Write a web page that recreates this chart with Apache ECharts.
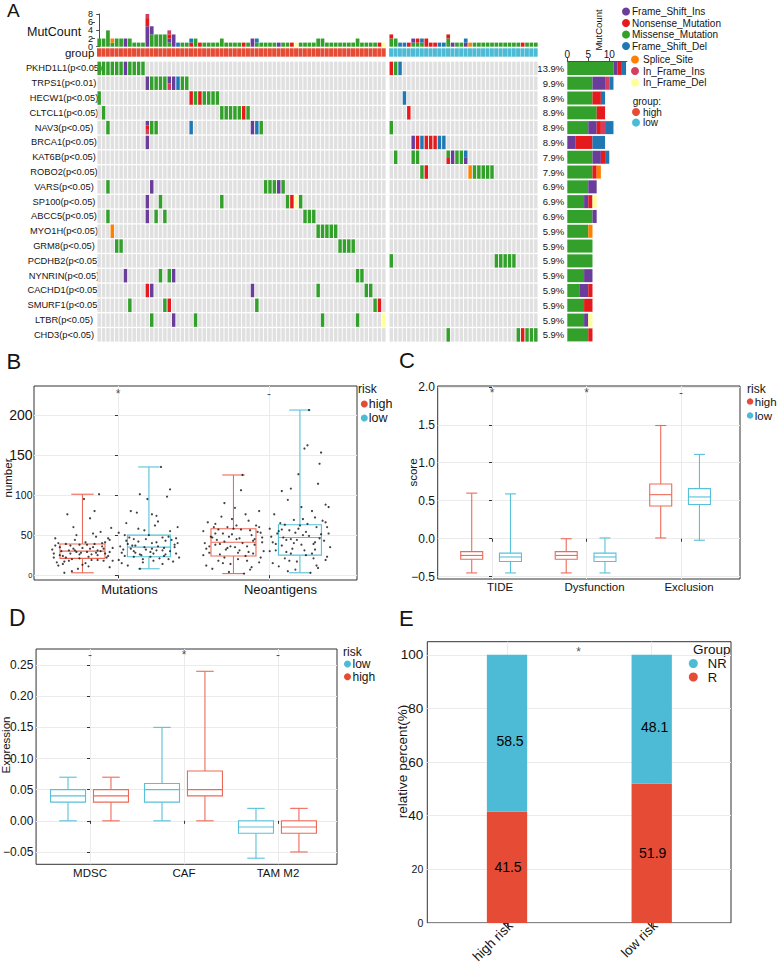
<!DOCTYPE html>
<html lang="en">
<head>
<meta charset="utf-8">
<title>Mutation landscape and immune scores by risk group</title>
<script src="https://cdn.jsdelivr.net/npm/echarts@6.0.0/dist/echarts.min.js"></script>
<style>
  html, body { margin: 0; padding: 0; background: #fff; }
  #chart { width: 777px; height: 966px; }
</style>
</head>
<body>
<div id="chart"></div>
<script>
const FONT = '"Liberation Sans", Arial, Helvetica, sans-serif';
const TXT = '#141414';
const RED = '#E64B35';
const CYAN = '#4DBBD5';
const RED_LINE = '#EE6A58';
const CYAN_LINE = '#58C1D9';

// ---------- A: oncoplot ----------
const mutTypes = ['Frame_Shift_Ins', 'Nonsense_Mutation', 'Missense_Mutation', 'Frame_Shift_Del',
  'Splice_Site', 'In_Frame_Ins', 'In_Frame_Del'];
const mutCodes = ['I', 'N', 'M', 'D', 'S', 'i', 'd'];
const mutColors = ['#6A3D9A', '#E41A1C', '#33A02C', '#1F78B4', '#FF7F00', '#D53E5F', '#FFFF99'];
const stackOrder = [2, 0, 1, 5, 3, 4, 6];

const genes = ['PKHD1L1', 'TRPS1', 'HECW1', 'CLTCL1', 'NAV3', 'BRCA1', 'KAT6B', 'ROBO2', 'VARS',
  'SP100', 'ABCC5', 'MYO1H', 'GRM8', 'PCDHB2', 'NYNRIN', 'CACHD1', 'SMURF1', 'LTBR', 'CHD3'];
const geneP = ['p<0.05', 'p<0.01', 'p<0.05', 'p<0.05', 'p<0.05', 'p<0.05', 'p<0.05', 'p<0.05', 'p<0.05',
  'p<0.05', 'p<0.05', 'p<0.05', 'p<0.05', 'p<0.05', 'p<0.05', 'p<0.05', 'p<0.05', 'p<0.05', 'p<0.05'];
const nHigh = 66;
const nLow = 34;
const totalSamples = 101;
const mutCountTicksA = [0, 4, 8];
const mutCountTicksB = [2, 6];

// mutated columns of each gene, "col:codes" (several codes = several hits in one sample)
const mutHigh = [
  '0-5:M 6:I 7-10:M',
  '11:I 12-15:M 16:Ii 17:I 18:D 19-20:M',
  '0:M 21:N 22:M 23:N 24-27:M',
  '1:M 28-32:M 33:N 34:M',
  '2:M 11:INi 12-13:M 21:D 35:I 36:D 37:M',
  '11:I',
  '',
  '',
  '2:M 12:I 38-40:M 41:I 42:M',
  '11:I 14:M 28:M 43:M 44:N 45:d 46:M',
  '2:M 11:I 13:M 15:M 47-49:M',
  '3:S 50-54:M',
  '4-5:M 55-58:M',
  '',
  '6:I 14:M 16:M 17:I 59-60:M',
  '11:N 12:I 35:I 50:M 61-62:M',
  '7:M 15:M 16:N 36:M 63:M 64:N',
  '12:M 17:I 22:M 51:M 59:M 65:d',
  ''
];
const mutLow = [
  '0:N 1:M 2:D',
  '',
  '3:D',
  '4:N',
  '0:M',
  '5:I 6:N 7:D 8-10:N 11-12:D',
  '1:M 5-6:M 13:MN 14:I 15-16:M 17:DI',
  '7:M 8:N 18:S 19-23:M',
  '', '', '', '', '',
  '0:M 24-28:M',
  '', '', '', '',
  '13:M 29:M 30:N 31-33:M'
];

// ---------- B: mutations / neoantigens ----------
const bCats = ['Mutations', 'Neoantigens'];
// [min, Q1, median, Q3, max]
const bHigh = [[3, 21, 30, 39, 101], [2, 24, 41, 58, 125]];
const bLow = [[8, 23, 35, 50, 135], [3, 25, 47, 63, 206]];
const bSig = ['*', '-'];
// jittered samples: [offset, value]
const bMutHighPts = [[-0.18,37],[-0.15,25],[-0.12,17],[-0.08,27],[-0.05,44],[-0.02,21],[0.02,15],[0.05,33],
  [0.09,48],[0.12,30],[0.15,41],[0.18,29],[-0.2,32],[-0.16,12],[-0.11,39],[-0.06,60],[-0.03,8],[0.01,95],
  [0.04,23],[0.07,35],[0.1,19],[0.13,36],[0.17,46],[0.2,34],[-0.19,22],[-0.14,30],[-0.1,76],[-0.07,5],
  [-0.01,28],[0.03,38],[0.06,26],[0.08,80],[0.11,101],[0.14,18],[0.19,59],[-0.17,16],[-0.13,24],[-0.09,31],
  [-0.04,50],[0.0,13],[0.05,71],[0.1,31],[0.16,22],[-0.12,3],[0.12,54],[-0.02,38],[0.18,10],[-0.07,20],
  [0.03,29],[0.08,39],[-0.19,27],[-0.15,35],[-0.11,22],[-0.06,33],[-0.02,26],[0.02,41],[0.06,19],[0.1,25],
  [0.14,33],[0.18,44],[-0.18,46],[-0.13,14],[-0.08,37],[-0.04,29],[0.0,34],[0.04,11],[0.09,28],[0.13,40],
  [0.17,24],[0.2,18],[-0.16,40],[-0.09,18],[0.07,52],[0.15,27],[-0.05,31]];
const bMutLowPts = [[-0.19,36],[-0.16,24],[-0.13,47],[-0.1,30],[-0.07,58],[-0.04,20],[-0.01,95],[0.02,33],
  [0.05,41],[0.08,135],[0.11,26],[0.14,107],[0.17,38],[0.2,22],[-0.18,15],[-0.15,43],[-0.12,80],[-0.09,28],
  [-0.06,101],[-0.03,35],[0.0,50],[0.03,18],[0.06,67],[0.09,31],[0.12,98],[0.15,44],[0.18,27],[-0.2,53],
  [-0.14,12],[-0.11,37],[-0.08,78],[-0.05,25],[-0.02,45],[0.01,29],[0.04,62],[0.07,21],[0.1,34],[0.13,48],
  [0.16,17],[0.19,40],[-0.17,32],[-0.06,8],[0.05,74],[0.14,55],[-0.1,23],[0.09,14],[0.02,76],[-0.15,65],
  [-0.18,28],[-0.14,39],[-0.1,45],[-0.06,26],[-0.02,32],[0.02,40],[0.06,36],[0.1,24],[0.14,30],[0.18,46],
  [-0.2,19],[-0.12,33],[-0.07,42],[-0.03,56],[0.01,23],[0.05,31],[0.09,47],[0.13,20],[0.17,35],[-0.16,50],
  [0.11,43],[-0.09,37],[0.03,27],[0.19,60],[-0.04,16]];
const bNeoHighPts = [[-0.19,40],[-0.16,28],[-0.13,60],[-0.1,18],[-0.07,52],[-0.04,34],[-0.01,70],[0.02,45],
  [0.05,106],[0.08,24],[0.11,56],[0.14,38],[0.17,80],[0.2,30],[-0.18,12],[-0.15,48],[-0.12,64],[-0.09,26],
  [-0.06,42],[-0.03,4],[0.0,58],[0.03,20],[0.06,125],[0.09,36],[0.12,50],[0.15,62],[0.18,22],[-0.2,55],
  [-0.14,8],[-0.11,44],[-0.08,73],[-0.05,32],[-0.02,14],[0.01,84],[0.04,46],[0.07,2],[0.1,68],[0.13,27],
  [0.16,54],[0.19,41],[-0.17,66],[-0.06,90],[0.04,31],[0.12,10],[-0.12,38],[0.08,76],[-0.01,51],[0.17,16],
  [-0.18,33],[-0.14,47],[-0.1,57],[-0.06,22],[-0.02,36],[0.02,62],[0.06,40],[0.1,29],[0.14,45],[0.18,53],
  [-0.2,25],[-0.12,52],[-0.07,15],[-0.03,48],[0.01,35],[0.05,57],[0.09,18],[0.13,43],[0.17,60],[-0.16,36],
  [0.11,7],[-0.09,39],[0.03,28],[0.19,47],[-0.04,60]];
const bNeoLowPts = [[-0.19,48],[-0.16,31],[-0.13,65],[-0.1,21],[-0.07,56],[-0.04,40],[-0.01,126],[0.02,50],
  [0.05,162],[0.08,27],[0.11,60],[0.14,153],[0.17,88],[0.2,35],[-0.18,15],[-0.15,52],[-0.12,105],[-0.09,29],
  [-0.06,45],[-0.03,7],[0.0,62],[0.03,158],[0.06,206],[0.09,39],[0.12,114],[0.15,68],[0.18,23],[-0.2,58],
  [-0.14,11],[-0.11,47],[-0.08,94],[-0.05,33],[-0.02,17],[0.01,85],[0.04,54],[0.07,3],[0.1,72],[0.13,139],
  [0.16,43],[0.19,85],[-0.17,76],[-0.06,108],[0.04,25],[0.12,9],[-0.12,37],[0.08,80],[-0.01,58],[0.17,19],
  [0.1,41],[-0.08,5],[-0.18,41],[-0.14,55],[-0.1,63],[-0.06,27],[-0.02,44],[0.02,70],[0.06,49],[0.1,32],
  [0.14,51],[0.18,60],[-0.2,30],[-0.12,57],[-0.07,18],[-0.03,53],[0.01,38],[0.05,64],[0.09,21],[0.13,46],
  [0.17,66],[-0.16,39],[0.11,12],[-0.09,44],[0.03,31],[0.19,52],[-0.04,69]];

// ---------- C: TIDE ----------
const cCats = ['TIDE', 'Dysfunction', 'Exclusion'];
const cHigh = [[-0.45, -0.27, -0.22, -0.17, 0.60], [-0.45, -0.27, -0.22, -0.17, 0.00], [0.01, 0.43, 0.58, 0.72, 1.49]];
const cLow = [[-0.45, -0.30, -0.24, -0.19, 0.59], [-0.45, -0.30, -0.24, -0.19, 0.01], [-0.02, 0.45, 0.55, 0.66, 1.11]];
const cSig = ['*', '*', '-'];

// ---------- D: immune suppressive cells ----------
const dCats = ['MDSC', 'CAF', 'TAM M2'];
const dLow = [[0, 0.03, 0.04, 0.05, 0.07], [0, 0.03, 0.05, 0.06, 0.15], [-0.06, -0.02, -0.01, 0, 0.02]];
const dHigh = [[0, 0.03, 0.04, 0.05, 0.07], [0, 0.04, 0.05, 0.08, 0.24], [-0.05, -0.02, -0.01, 0, 0.02]];
const dSig = ['-', '*', '-'];

// ---------- E: response ----------
const eCats = ['high risk', 'low risk'];
const eR = [41.5, 51.9];
const eNR = [58.5, 48.1];
const eSig = ['*'];

// ---------- derived oncoplot tables ----------
function parseRow(str) {
  const cells = {};
  str.split(' ').filter(Boolean).forEach(tok => {
    const [range, codes] = tok.split(':');
    const [a, b] = range.split('-').map(Number);
    const end = b === undefined ? a : b;
    for (let c = a; c <= end; c++) cells[c] = codes.split('').map(ch => mutCodes.indexOf(ch));
  });
  return cells;
}

const GAP = 0.7;
const matrixCells = [];
const topBars = [];
const groupHighCols = [];
const groupLowCols = [];
const geneMutCounts = genes.map(() => mutTypes.map(() => 0));
const geneSampleCounts = genes.map(() => 0);
const parsed = genes.map((g, r) => [parseRow(mutHigh[r]), parseRow(mutLow[r])]);
[nHigh, nLow].forEach((n, grp) => {
  for (let c = 0; c < n; c++) {
    const x = grp === 0 ? c : nHigh + GAP + c;
    const colCounts = mutTypes.map(() => 0);
    genes.forEach((g, r) => {
      const t = parsed[r][grp][c] || [];
      matrixCells.push([x, r, t[0] ?? -1, t[1] ?? -1, t[2] ?? -1]);
      if (t.length) geneSampleCounts[r]++;
      t.forEach(k => { colCounts[k]++; geneMutCounts[r][k]++; });
    });
    topBars.push([x, ...colCounts]);
    (grp === 0 ? groupHighCols : groupLowCols).push([x, 0]);
  }
});

// ---------- helpers ----------
function boxSeries(name, g, stats, offset, boxW, color) {
  return {
    type: 'custom', name, xAxisIndex: g, yAxisIndex: g,
    itemStyle: { color: name === 'high' ? RED : CYAN },
    encode: { x: 0, y: [1, 2, 3, 4, 5] },
    data: stats.map((d, i) => [i + offset, ...d]),
    z: 2,
    renderItem: (params, api) => {
      const x = api.value(0);
      const p = [1, 2, 3, 4, 5].map(k => api.coord([x, api.value(k)]));
      const cx = p[0][0];
      const half = boxW / 2, cap = boxW / 4;
      const style = { stroke: color, fill: 'none', lineWidth: 1.1 };
      return {
        type: 'group', children: [
          { type: 'line', shape: { x1: cx, y1: p[4][1], x2: cx, y2: p[3][1] }, style },
          { type: 'line', shape: { x1: cx, y1: p[1][1], x2: cx, y2: p[0][1] }, style },
          { type: 'line', shape: { x1: cx - cap, y1: p[4][1], x2: cx + cap, y2: p[4][1] }, style },
          { type: 'line', shape: { x1: cx - cap, y1: p[0][1], x2: cx + cap, y2: p[0][1] }, style },
          { type: 'rect', shape: { x: cx - half, y: p[3][1], width: boxW, height: p[1][1] - p[3][1] }, style },
          { type: 'line', shape: { x1: cx - half, y1: p[2][1], x2: cx + half, y2: p[2][1] }, style }
        ]
      };
    }
  };
}

function jitterSeries(g, pts, center) {
  return {
    type: 'scatter', xAxisIndex: g, yAxisIndex: g, silent: true, z: 3,
    symbolSize: 2.2, itemStyle: { color: '#111' },
    data: pts.map(p => [center + p[0], p[1]])
  };
}

function sigSeries(g, xs, y, texts) {
  return {
    type: 'scatter', xAxisIndex: g, yAxisIndex: g, silent: true, z: 4,
    symbolSize: 1, itemStyle: { color: 'rgba(0,0,0,0)' },
    data: xs.map(x => [x, y]),
    label: { show: true, position: 'inside', formatter: p => texts[p.dataIndex], fontSize: 12, color: '#222', fontFamily: FONT }
  };
}

function panelX(g, min, max, cats, fs, margin, pad, rotate) {
  const vals = cats.map((c, i) => i);
  return {
    type: 'value', gridIndex: g, min, max,
    axisLine: { show: false },
    axisTick: { show: true, customValues: vals, length: 3, lineStyle: { color: '#333' } },
    axisLabel: {
      customValues: vals, formatter: v => cats[Math.round(v)], fontSize: fs, margin,
      color: TXT, fontFamily: FONT, padding: pad, rotate: rotate || 0
    },
    splitLine: { show: true, lineStyle: { color: '#EBEBEB', width: 1 } }
  };
}

function panelY(g, min, max, vals, fmt, margin, rich) {
  return {
    type: 'value', gridIndex: g, min, max,
    axisLine: { show: false },
    axisTick: { show: true, customValues: vals, length: 3, lineStyle: { color: '#333' } },
    axisLabel: { customValues: vals, formatter: fmt, margin, color: TXT, fontFamily: FONT, rich,
      showMinLabel: true, showMaxLabel: true },
    splitLine: { show: true, lineStyle: { color: '#EBEBEB', width: 1 } }
  };
}

function mutCountAxis(vals, showLine) {
  return {
    type: 'value', gridIndex: 0, min: 0, max: 8, offset: 2, position: 'left',
    axisLine: { show: showLine, lineStyle: { color: '#222', width: 0.8 } },
    axisTick: { show: true, customValues: vals, length: 3, lineStyle: { color: '#222', width: 0.8 } },
    axisLabel: { customValues: vals, fontSize: 9, margin: 2, color: TXT, fontFamily: FONT,
      showMinLabel: true, showMaxLabel: true },
    splitLine: { show: false }
  };
}

const minus = s => s.replace('-', '\u2212');
const rs = size => ({ fontSize: size, fontFamily: FONT, color: TXT });

function txt(text, x, y, size, opt = {}) {
  return {
    type: 'text', x, y, silent: true, rotation: opt.rotation || 0,
    style: { text, fontSize: size, fontFamily: FONT, fill: TXT, align: opt.align || 'left', verticalAlign: 'middle' }
  };
}

function legendAt(data, left, top, dot, gap, fontSize, textShift) {
  return {
    data, left, top, orient: 'vertical', icon: 'circle', padding: 0, selectedMode: false,
    itemWidth: dot, itemHeight: dot, itemGap: gap,
    textStyle: { fontFamily: FONT, color: TXT, fontSize, padding: [0, 0, 0, textShift] }
  };
}

// ---------- option ----------
const frame = { show: true, borderColor: '#333', borderWidth: 1, backgroundColor: 'transparent' };
const hiddenX = g => ({ type: 'value', gridIndex: g, min: -0.5, max: nHigh + GAP + nLow - 0.5, show: false });

const option = {
  animation: false,
  textStyle: { fontFamily: FONT, color: TXT },
  grid: [
    { left: 97, top: 14, width: 441, height: 32.7 },
    { left: 97, top: 48.3, width: 441, height: 8.4 },
    { left: 97, top: 61, width: 441, height: 281.3 },
    { left: 567.3, top: 61, width: 59.6, height: 281.3 },
    Object.assign({ left: 34, top: 386, width: 323, height: 194 }, frame),
    Object.assign({ left: 437.7, top: 386, width: 302.3, height: 193 }, frame),
    Object.assign({ left: 36, top: 649, width: 301, height: 215.3 }, frame),
    Object.assign({ left: 427.3, top: 641.7, width: 303.7, height: 284.3 }, frame)
  ],
  xAxis: [
    hiddenX(0), hiddenX(1), hiddenX(2),
    {
      type: 'value', gridIndex: 3, position: 'top', min: 0, max: 14.2,
      axisLine: { show: true, lineStyle: { color: '#222', width: 0.8 } },
      axisTick: { show: true, customValues: [0, 5, 10], length: 3, lineStyle: { color: '#222', width: 0.8 } },
      axisLabel: { customValues: [0, 5, 10], fontSize: 10, margin: 2, color: TXT, fontFamily: FONT },
      splitLine: { show: false }
    },
    panelX(4, -0.556, 1.583, bCats, 13, 3, [0, 0, 0, 23]),
    panelX(5, -0.575, 2.624, cCats, 11.5, 2, [0, 0, 0, 16]),
    panelX(6, -0.574, 2.628, dCats, 11.5, 3, 0),
    panelX(7, -0.551, 1.548, eCats, 13.5, 4, [0, -5, 0, 0], 45)
  ],
  yAxis: [
    mutCountAxis(mutCountTicksA, true),
    {
      type: 'category', gridIndex: 1, data: ['group'],
      axisLine: { show: false }, axisTick: { show: false },
      axisLabel: { fontSize: 11.5, margin: 2.7, color: TXT, fontFamily: FONT, padding: [3, 0, 0, 0] }
    },
    {
      type: 'category', gridIndex: 2, data: genes, inverse: true,
      axisLine: { show: false }, axisTick: { show: false },
      axisLabel: {
        fontSize: 9.3, margin: 33, align: 'center', color: TXT, fontFamily: FONT,
        formatter: (v, i) => v + '(' + geneP[i] + ')'
      }
    },
    {
      type: 'category', gridIndex: 3, data: genes, inverse: true,
      axisLine: { show: false }, axisTick: { show: false },
      axisLabel: {
        fontSize: 9.5, margin: 3, color: TXT, fontFamily: FONT,
        formatter: (v, i) => (geneSampleCounts[i] / totalSamples * 100).toFixed(1) + '%'
      }
    },
    panelY(4, -6, 236, [0, 50, 100, 150, 200],
      v => (v >= 150 ? '{b|' : v > 0 ? '{m|' : '{s|') + v + '}', 1.5,
      { b: rs(14), m: rs(10.5), s: rs(7.5) }),
    panelY(5, -0.53, 2.01, [-0.5, 0, 0.5, 1, 1.5, 2],
      v => '{m|' + minus(v.toFixed(1)) + '}', 2.7, { m: rs(12) }),
    panelY(6, -0.0698, 0.2758, [-0.05, 0, 0.05, 0.1, 0.15, 0.2, 0.25],
      v => '{m|' + minus(v.toFixed(2)) + '}', 2.7, { m: rs(12) }),
    panelY(7, 0, 104.9, [0, 20, 40, 60, 80, 100],
      v => (v >= 40 ? '{b|' : '{s|') + v + '}', 4, { b: rs(13.5), s: rs(10.5) }),
    mutCountAxis(mutCountTicksB, false)
  ],
  legend: [
    legendAt(mutTypes.slice(0, 4), 622, 6.5, 8, 1.5, 10, -3),
    legendAt(mutTypes.slice(4), 631, 54.5, 8, 1.5, 10, -1),
    legendAt(['high', 'low'], 632, 107, 8, 0.5, 10, -2),
    legendAt(['high', 'low'], 360.8, 397.5, 7, 1, 12.5, -4),
    legendAt(['high', 'low'], 746.8, 395.5, 6.5, 2, 11.5, -3.5),
    legendAt(['low', 'high'], 344, 658, 7, 0.7, 12, -3.5),
    legendAt(['NR', 'R'], 688.8, 657, 9, 0.5, 13, 5)
  ],
  graphic: [
    txt('A', 7, 10, 19),
    txt('B', 6.5, 361, 22),
    txt('C', 399, 360.5, 22),
    txt('D', 9, 617.5, 23),
    txt('E', 399, 618.5, 22),
    txt('MutCount', 27, 31.7, 12.5),
    txt('MutCount', 598, 30, 9.5, { rotation: Math.PI / 2, align: 'center' }),
    txt('group:', 632.7, 101.7, 10),
    txt('risk', 358, 389, 12),
    txt('risk', 747, 389, 12),
    txt('risk', 343, 652, 12),
    txt('Group', 693, 649.5, 13.5),
    txt('number', 8.3, 478, 11.5, { rotation: Math.PI / 2, align: 'center' }),
    txt('score', 413, 472.5, 11.5, { rotation: Math.PI / 2, align: 'center' }),
    txt('Expression', 6, 745, 11.5, { rotation: Math.PI / 2, align: 'center' }),
    txt('relative percent(%)', 402.5, 761.5, 13.5, { rotation: Math.PI / 2, align: 'center' })
  ],
  series: []
};

// A: top mutation count bars
option.series.push({
  type: 'custom', xAxisIndex: 0, yAxisIndex: 0, silent: true,
  encode: { x: 0, y: 1 },
  data: topBars,
  renderItem: (params, api) => {
    const x = api.value(0);
    let acc = 0;
    const kids = [];
    stackOrder.forEach(k => {
      const n = api.value(1 + k);
      if (n > 0) {
        const a = api.coord([x - 0.42, acc]);
        const b = api.coord([x + 0.42, acc + n]);
        kids.push({ type: 'rect', shape: { x: a[0], y: b[1], width: b[0] - a[0], height: a[1] - b[1] }, style: { fill: mutColors[k] } });
        acc += n;
      }
    });
    return { type: 'group', children: kids };
  }
});

// A: group annotation
[['high', groupHighCols, RED], ['low', groupLowCols, CYAN]].forEach(([name, cols, color]) => {
  option.series.push({
    type: 'custom', name, xAxisIndex: 1, yAxisIndex: 1, silent: true,
    itemStyle: { color }, encode: { x: 0, y: 1 }, data: cols,
    renderItem: (params, api) => {
      const c = api.coord([api.value(0), api.value(1)]);
      const sz = api.size([1, 1]);
      return { type: 'rect', shape: { x: c[0] - sz[0] / 2, y: c[1] - sz[1] / 2, width: sz[0] - 0.35, height: sz[1] }, style: { fill: color } };
    }
  });
});

// A: mutation matrix
option.series.push({
  type: 'custom', xAxisIndex: 2, yAxisIndex: 2, silent: true, progressive: 0,
  encode: { x: 0, y: 1 },
  data: matrixCells,
  renderItem: (params, api) => {
    const c = api.coord([api.value(0), api.value(1)]);
    const sz = api.size([1, 1]);
    const w = sz[0] - 0.9, h = sz[1] - 1.3;
    const x0 = c[0] - w / 2, y0 = c[1] - h / 2;
    const types = [api.value(2), api.value(3), api.value(4)].filter(t => t >= 0);
    if (!types.length) {
      return { type: 'rect', shape: { x: x0, y: y0, width: w, height: h }, style: { fill: '#E0E0E0' } };
    }
    const hh = h / types.length;
    return {
      type: 'group',
      children: types.map((t, k) => ({ type: 'rect', shape: { x: x0, y: y0 + k * hh, width: w, height: hh }, style: { fill: mutColors[t] } }))
    };
  }
});

// A: right-hand mutation count per gene
stackOrder.forEach(k => {
  option.series.push({
    type: 'bar', name: mutTypes[k], xAxisIndex: 3, yAxisIndex: 3, stack: 'gene', barWidth: '88%',
    itemStyle: { color: mutColors[k] }, silent: true,
    data: geneMutCounts.map(row => row[k])
  });
});

// B
const B_OFF = { high: -0.235, low: 0.205 };
option.series.push(
  boxSeries('high', 4, bHigh, B_OFF.high, 45, RED_LINE),
  boxSeries('low', 4, bLow, B_OFF.low, 43, CYAN_LINE),
  jitterSeries(4, bMutHighPts, 0 + B_OFF.high),
  jitterSeries(4, bMutLowPts, 0 + B_OFF.low),
  jitterSeries(4, bNeoHighPts, 1 + B_OFF.high),
  jitterSeries(4, bNeoLowPts, 1 + B_OFF.low),
  sigSeries(4, [0, 1], 225.5, bSig)
);

// C
const C_OFF = { high: -0.215, low: 0.195 };
option.series.push(
  boxSeries('high', 5, cHigh, C_OFF.high, 22, RED_LINE),
  boxSeries('low', 5, cLow, C_OFF.low, 22, CYAN_LINE),
  sigSeries(5, [0, 1, 2], 1.915, cSig)
);

// D
const D_OFF = { low: -0.234, high: 0.223 };
option.series.push(
  boxSeries('low', 6, dLow, D_OFF.low, 35, CYAN_LINE),
  boxSeries('high', 6, dHigh, D_OFF.high, 35, RED_LINE),
  sigSeries(6, [0, 1, 2], 0.266, dSig)
);

// E: stacked percentages
function stackSeries(name, color, start, values, dx, dy) {
  return {
    type: 'custom', name, xAxisIndex: 7, yAxisIndex: 7, silent: true,
    itemStyle: { color }, encode: { x: 0, y: [1, 2] },
    data: values.map((v, i) => [i, start[i], v]),
    renderItem: (params, api) => {
      const x = api.value(0), lo = api.value(1), v = api.value(2);
      const a = api.coord([x, lo]);
      const b = api.coord([x, lo + v]);
      const w = 40.3;
      return {
        type: 'group', children: [
          { type: 'rect', shape: { x: a[0] - w / 2, y: b[1], width: w, height: a[1] - b[1] }, style: { fill: color } },
          { type: 'text', x: a[0] + dx, y: (a[1] + b[1]) / 2 + dy,
            style: { text: v.toFixed(1), fontSize: 14, fontFamily: FONT, fill: '#000', align: 'center', verticalAlign: 'middle' } }
        ]
      };
    }
  };
}
option.series.push(
  stackSeries('R', RED, [0, 0], eR, 1, 0),
  stackSeries('NR', CYAN, eR, eNR, 3, 8),
  sigSeries(7, [0.495], 101.1, eSig)
);

const chart = echarts.init(document.getElementById('chart'), null, { renderer: 'svg' });
chart.setOption(option);
</script>
</body>
</html>
